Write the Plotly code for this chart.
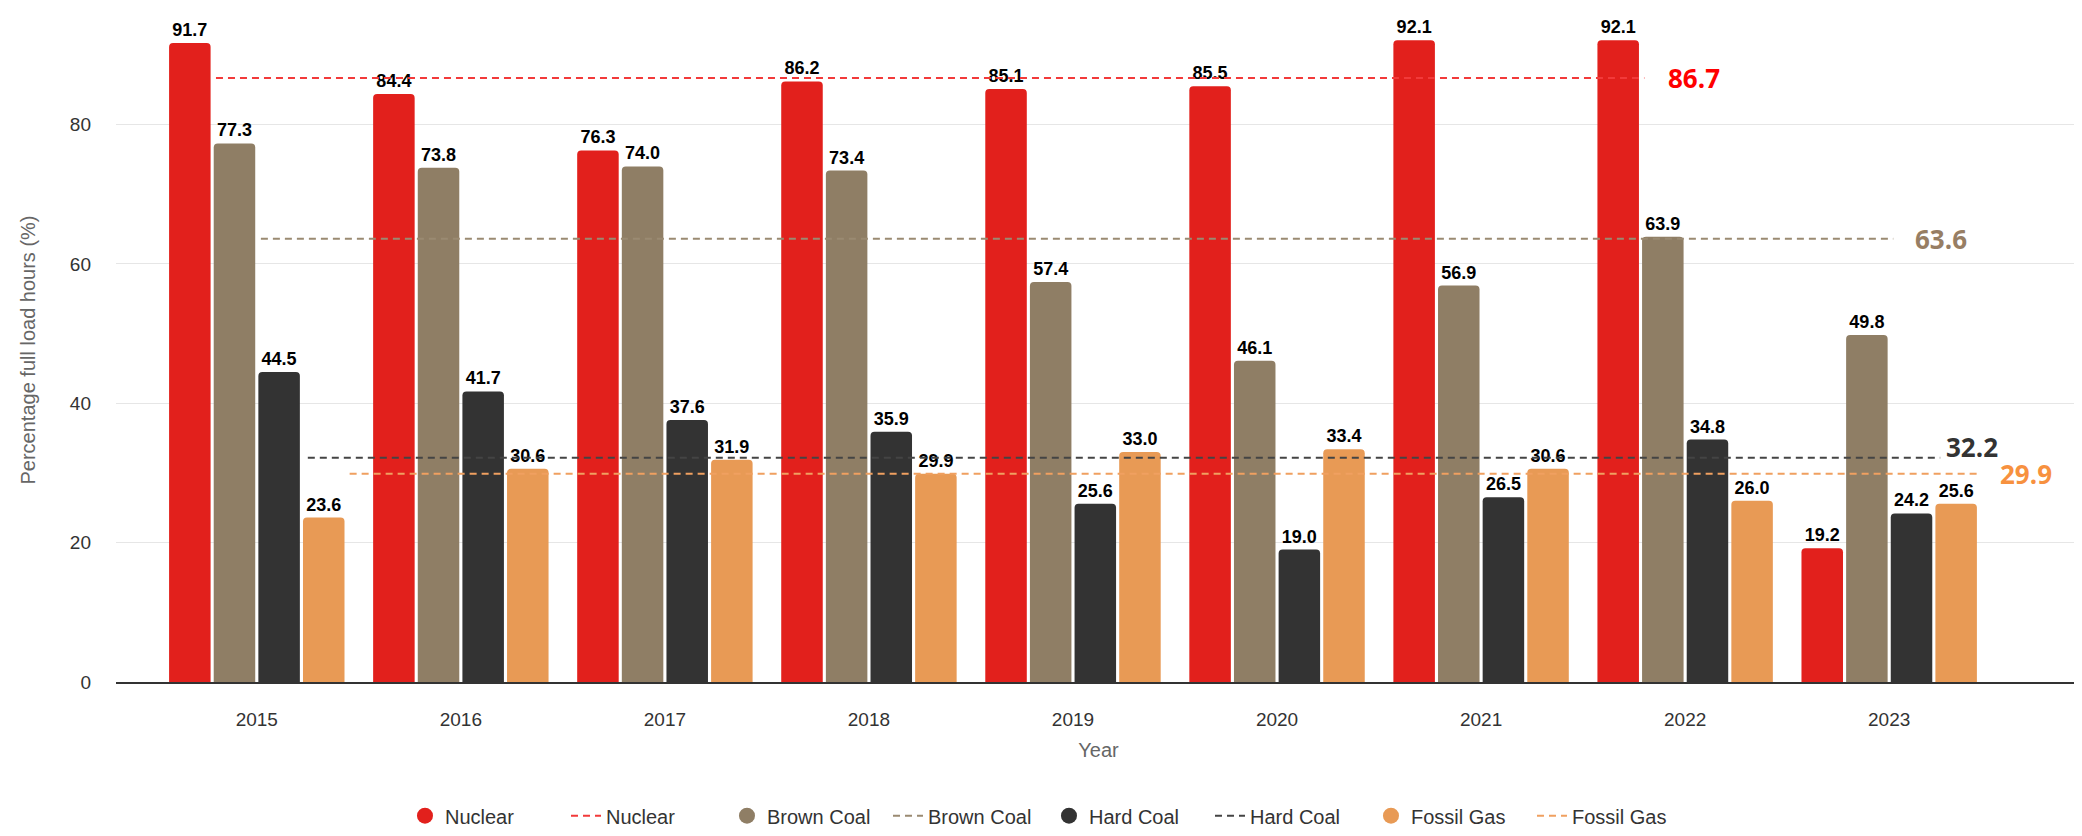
import plotly.graph_objects as go

# data
years = ['2015', '2016', '2017', '2018', '2019', '2020', '2021', '2022', '2023']
nuclear = [91.7, 84.4, 76.3, 86.2, 85.1, 85.5, 92.1, 92.1, 19.2]
brown_coal = [77.3, 73.8, 74.0, 73.4, 57.4, 46.1, 56.9, 63.9, 49.8]
hard_coal = [44.5, 41.7, 37.6, 35.9, 25.6, 19.0, 26.5, 34.8, 24.2]
fossil_gas = [23.6, 30.6, 31.9, 29.9, 33.0, 33.4, 30.6, 26.0, 25.6]
sources = ['Nuclear', 'Brown Coal', 'Hard Coal', 'Fossil Gas']
averages = [86.7, 63.6, 32.2, 29.9]

# styling
bar_colors = ['#e2201c', '#8f7e65', '#333333', '#e89a55']
line_colors = ['#f23a3a', '#9a8a72', '#444444', '#f0a060']
label_colors = ['#ff0000', '#977e64', '#333333', '#f7913f']
# where each average line starts / ends (in category units)
line_span = [(-0.2, 6.8), (0.02, 8.02), (0.25, 8.25), (0.455, 8.445)]
label_shift = [(22, 0), (20, 0), (4, 11), (18, 0)]

idx = list(range(len(years)))
values = [nuclear, brown_coal, hard_coal, fossil_gas]

fig = go.Figure()

for name, vals, col in zip(sources, values, bar_colors):
    fig.add_trace(go.Bar(
        x=idx, y=vals, name=name, marker_color=col, marker_line_width=0,
        text=vals, texttemplate='%{y:.1f}', textposition='outside',
        textfont=dict(family='Liberation Sans', size=18, color='#000000', weight='bold'),
        constraintext='none', cliponaxis=False, showlegend=False,
    ))

for i, name in enumerate(sources):
    # legend entry with a round marker for the bars
    fig.add_trace(go.Scatter(
        x=[None], y=[None], mode='markers', name=name,
        marker=dict(color=bar_colors[i], size=16, symbol='circle'),
    ))
    x0, x1 = line_span[i]
    fig.add_trace(go.Scatter(
        x=[x0, x1], y=[averages[i], averages[i]], mode='lines', name=name,
        line=dict(color=line_colors[i], width=2, dash='7px,5px'),
        hoverinfo='skip',
    ))
    fig.add_annotation(
        x=x1, y=averages[i], text='<b>%.1f</b>' % averages[i], showarrow=False,
        xanchor='left', yanchor='middle',
        xshift=label_shift[i][0], yshift=label_shift[i][1],
        font=dict(family='Open Sans', size=26, color=label_colors[i]),
    )

fig.update_layout(
    width=2082, height=836,
    margin=dict(l=108, r=9, t=10, b=139),
    plot_bgcolor='white', paper_bgcolor='white',
    barmode='group', bargap=0.125, bargroupgap=0.07, barcornerradius=4,
    font=dict(family='Liberation Sans', size=19, color='#333333'),
    legend=dict(orientation='h', x=0.4748, xanchor='center',
                y=-0.172, yanchor='top', entrywidth=116,
                font=dict(size=20, color='#333333')),
    xaxis=dict(
        range=[-0.69, 8.94], tickvals=idx, ticktext=years,
        showgrid=False, zeroline=False, showline=True, linecolor='#333333', linewidth=2,
        ticks='', tickfont=dict(size=19, color='#333333'), ticklabelstandoff=19,
        title=dict(text='Year', font=dict(size=20, color='#666666'), standoff=14),
    ),
    yaxis=dict(
        range=[0, 95.3], tickvals=[0, 20, 40, 60, 80],
        showgrid=True, gridcolor='#e6e6e6', gridwidth=1, zeroline=False,
        ticks='', tickfont=dict(size=19, color='#333333'), ticklabelstandoff=24,
        title=dict(text='Percentage full load hours (%)', font=dict(size=20, color='#666666'),
                   standoff=28),
    ),
)

fig.write_html('out.html')
